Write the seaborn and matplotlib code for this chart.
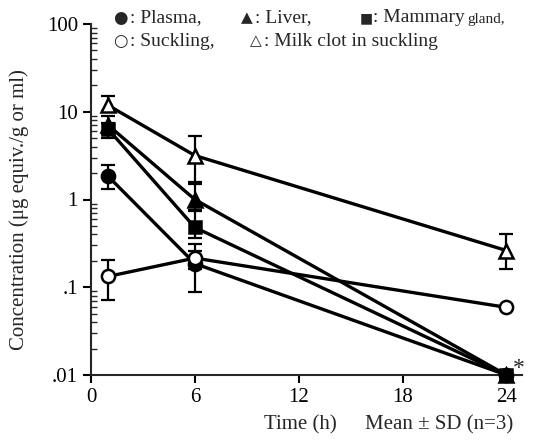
import numpy as np
import pandas as pd
import matplotlib
matplotlib.use("Agg")
import matplotlib.pyplot as plt
import seaborn as sns

# ---- data ----
times = [1, 6, 24]
plasma = [1.83, 0.186, 0.01]
plasma_lo = [1.33, 0.089, np.nan]
plasma_hi = [2.5, 0.26, np.nan]

liver = [7.0, 1.0, 0.01]
liver_lo = [5.6, 0.75, np.nan]
liver_hi = [8.9, 1.52, np.nan]

mammary = [6.3, 0.48, 0.01]
mammary_lo = [5.0, 0.36, np.nan]
mammary_hi = [7.5, 0.74, np.nan]

suckling = [0.133, 0.215, 0.059]
suckling_lo = [0.072, 0.16, np.nan]
suckling_hi = [0.206, 0.31, np.nan]

milkclot = [11.8, 3.17, 0.262]
milkclot_lo = [10.1, 1.6, 0.16]
milkclot_hi = [15.3, 5.35, 0.40]

yticks = [0.01, 0.1, 1, 10, 100]
yticklabels = [".01", ".1", "1", "10", "100"]
xticks = [0, 6, 12, 18, 24]

sns.set_style("ticks")
plt.rcParams["font.family"] = ["Liberation Serif", "DejaVu Serif", "DejaVu Sans"]

FS = 15
LFS = 14

fig = plt.figure(figsize=(5.46, 4.43), dpi=100)
ax = fig.add_axes([91/546, 1-375/443, 431/546, 351/443])

series = [
    ("Plasma", plasma, plasma_lo, plasma_hi, "o", "black", 9.5),
    ("Liver", liver, liver_lo, liver_hi, "^", "black", 10.5),
    ("Mammary gland", mammary, mammary_lo, mammary_hi, "s", "black", 9),
    ("Suckling", suckling, suckling_lo, suckling_hi, "o", "white", 9.5),
    ("Milk clot in suckling", milkclot, milkclot_lo, milkclot_hi, "^", "white", 10.5),
]

for name, y, lo, hi, mk, fc, ms in series:
    df = pd.DataFrame({"time": times, "conc": y})
    y_arr = np.array(y, float)
    lo_arr = np.array(lo, float)
    hi_arr = np.array(hi, float)
    mask = ~np.isnan(lo_arr)
    ax.errorbar(np.array(times)[mask], y_arr[mask],
                yerr=[y_arr[mask]-lo_arr[mask], hi_arr[mask]-y_arr[mask]],
                fmt="none", ecolor="black", elinewidth=1.6, capsize=5,
                capthick=1.6, zorder=2)
    sns.lineplot(data=df, x="time", y="conc", ax=ax, color="black",
                 linewidth=2.4, marker=mk, markersize=ms,
                 markerfacecolor=fc, markeredgecolor="black",
                 markeredgewidth=1.8, zorder=3, legend=False, clip_on=False)

ax.set_yscale("log")
ax.set_ylim(0.01, 100)
ax.set_xlim(0, 24.9)
ax.set_yticks(yticks)
ax.set_yticklabels(yticklabels)
ax.set_xticks(xticks)
ax.set_xlabel("")
ax.set_ylabel("")
for s in ["top", "right"]:
    ax.spines[s].set_visible(False)
for s in ["left", "bottom"]:
    ax.spines[s].set_linewidth(1.5)
ax.tick_params(axis="both", which="major", direction="out", length=6,
               width=1.5, labelsize=FS, color="black", labelcolor="black")
ax.tick_params(axis="y", which="minor", direction="in", length=4, width=1.0)
ax.tick_params(axis="x", which="minor", bottom=False)

ax.annotate("*", xy=(24, 0.01), xytext=(9, 5), textcoords="offset points",
            fontsize=17, ha="center", va="center")

fig.text(19/546, 1-210/443, "Concentration (μg equiv./g or ml)", rotation=90,
         ha="center", va="center", fontsize=FS)
fig.text(300/546, 1-425/443, "Time (h)", ha="center", va="center", fontsize=FS)
fig.text(439/546, 1-425/443, "Mean ± SD (n=3)", ha="center", va="center", fontsize=FS)

# legend as text
sym = ["DejaVu Sans"]
def leg(xs, xl, ys, symbol, label, ssize=12):
    fig.text(xs/546, 1-ys/443, symbol, family=sym, fontsize=ssize, ha="left", va="center")
    fig.text(xl/546, 1-ys/443, label, fontsize=LFS, ha="left", va="center")

leg(113, 130, 18, "●", ": Plasma,")
leg(241, 255, 18, "▲", ": Liver,", ssize=11)
leg(360, 373, 18, "■", ": Mammary", ssize=10)
fig.text(467/546, 1-20/443, "gland,", fontsize=11, ha="left", va="center")
leg(113, 130, 41, "○", ": Suckling,")
leg(250, 264, 41, "△", ": Milk clot in suckling", ssize=11)

fig.savefig("out.png", dpi=100)
